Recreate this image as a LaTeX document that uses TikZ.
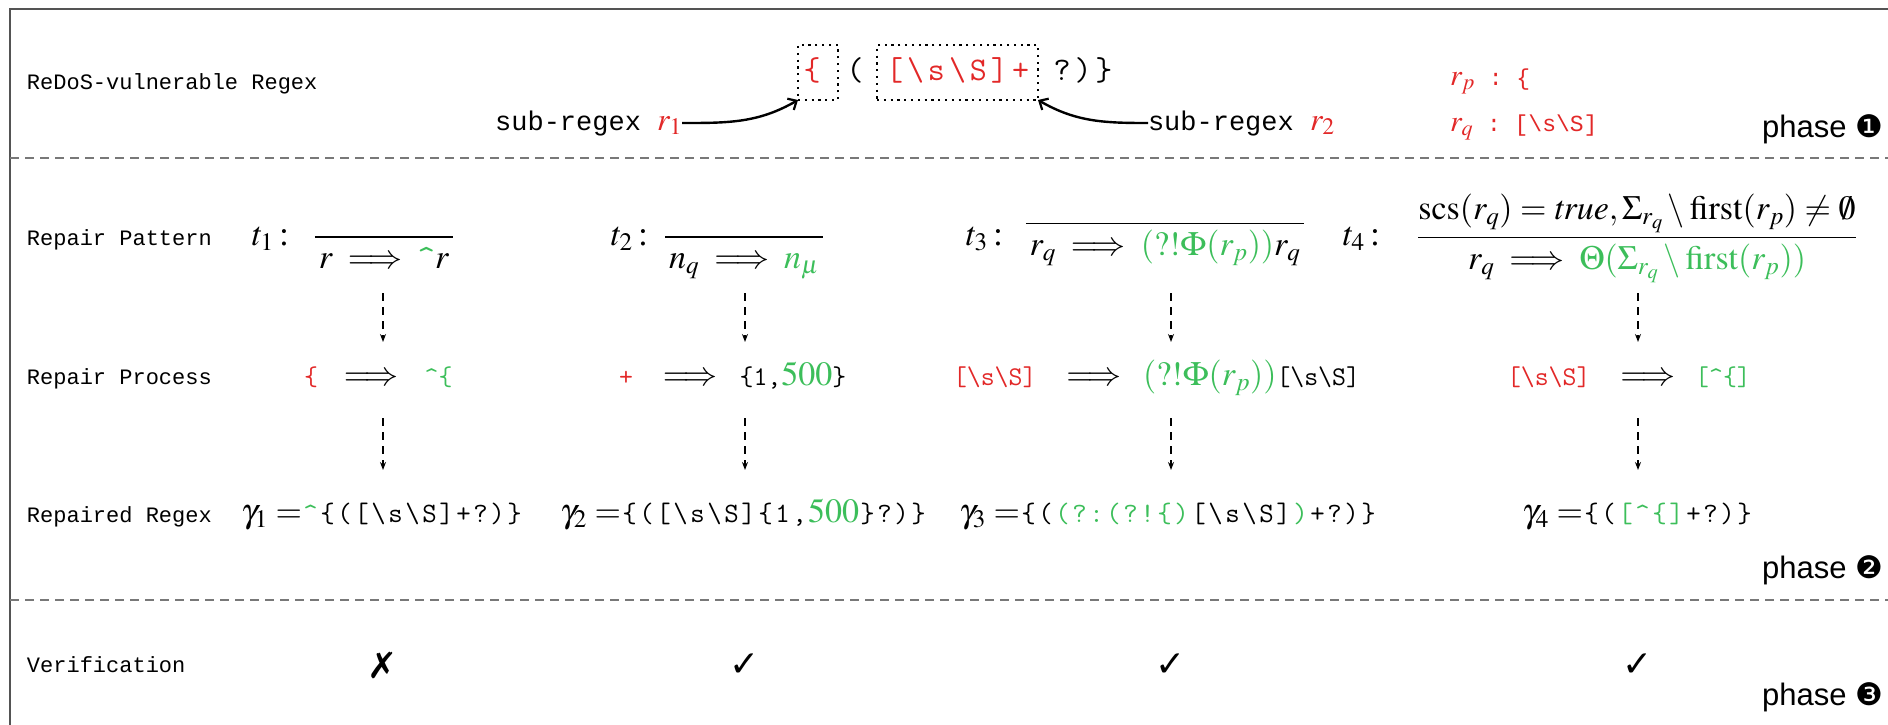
\documentclass[tikz,border=0pt]{standalone}
\usepackage{amsmath}
\usepackage{mathptmx}
\usepackage[no-math]{fontspec}
\setmainfont{Liberation Serif}
\newfontfamily\courierf{Liberation Mono}
\newfontfamily\helvf{Liberation Sans}
\newfontfamily\dejavu{DejaVu Sans}
\usetikzlibrary{arrows.meta}
\definecolor{myred}{RGB}{226,40,40}
\definecolor{mygreen}{RGB}{60,190,90}
\definecolor{lineg}{RGB}{120,120,120}
\makeatletter
\newcommand\spch[2]{\@tfor\spx:=#2\do{\makebox[#1]{\spx}}}
\makeatother
\newcommand\labf{\courierf\fontsize{22}{26}\selectfont}
\newcommand\subf{\courierf\fontsize{27}{32}\selectfont}
\newcommand\mathf{\fontsize{34}{40}\selectfont}
\newcommand\ttbig{\ttfamily\fontsize{33}{40}\selectfont}
\newcommand\ttmid{\ttfamily\fontsize{27}{32}\selectfont}
\newcommand\ttrow{\ttfamily\fontsize{28}{32}\selectfont}
\newcommand\phf{\helvf\fontsize{31}{36}\selectfont}
\newcommand\bsl{\textbackslash}
\begin{document}
\begin{tikzpicture}[x=1pt,y=-1pt,
  every node/.style={inner sep=0pt,outer sep=0pt},
  lab/.style={anchor=base west,font=\labf},
  mathcell/.style={anchor=base west,font=\mathf},
  rulecell/.style={anchor=base,font=\mathf},
  dotbox/.style={draw=black,line width=2pt,dash pattern=on 2.2pt off 4.6pt,minimum height=55pt},
  curvearrow/.style={line width=2.4pt,-{Straight Barb[length=7pt,width=13pt,line width=2.2pt]}},
  dasharrow/.style={line width=1.2pt,dash pattern=on 8pt off 6pt,-{Stealth[length=8pt,width=6pt]}},
  sep/.style={lineg,line width=1.8pt,dash pattern=on 9pt off 6pt},
  phase/.style={anchor=base east,font=\phf},
  checkmk/.style={font=\dejavu\fontsize{36}{40}\selectfont}]
\useasboundingbox (0,0) rectangle (1888,725);
% frame
\draw[lineg!70!black,line width=2.5pt] (10,730) -- (10,9) -- (1895,9);
\draw[sep] (10,158) -- (1888,158);
\draw[sep] (10,600) -- (1888,600);
% row labels
\node[lab] (l1) at (27,89) {ReDoS-vulnerable Regex};
\node[lab] (l2) at (27,245) {Repair Pattern};
\node[lab] (l3) at (27,384) {Repair Process};
\node[lab] (l4) at (27,522) {Repaired Regex};
\node[lab] (l5) at (27,672) {Verification};
% phase 1
\node[dotbox,minimum width=40pt] (b1) at (818,72.5) {};
\node[dotbox,minimum width=161pt] (b2) at (957.5,72.5) {};
\node[anchor=base,font=\ttbig,text=myred] (c1) at (812,81) {\{};
\node[anchor=base,font=\ttbig] (c2) at (855,81) {(};
\node[anchor=base,font=\ttbig,text=myred] (c3) at (957.5,81) {\spch{21pt}{[\bsl s\bsl S]+}};
\node[anchor=base,font=\ttbig] (c4) at (1083,81) {\spch{21pt}{?)\}}};
\node[anchor=base east,font=\subf] (s1) at (682,130) {sub-regex \textcolor{myred}{\fontsize{32}{36}\selectfont$r_1$}};
\node[anchor=base west,font=\subf] (s2) at (1148,130) {sub-regex \textcolor{myred}{\fontsize{32}{36}\selectfont$r_2$}};
\draw[curvearrow] (s1.east) to[out=0,in=-150] (b1.south west);
\draw[curvearrow] (s2.west) to[out=180,in=-30] (b2.south east);
\node[anchor=base west,text=myred] (rp) at (1450,85) {\fontsize{30}{34}\selectfont$r_p$\courierf\fontsize{23}{28}\selectfont\ :\ \{};
\node[anchor=base west,text=myred] (rq) at (1450,131) {\fontsize{30}{34}\selectfont$r_q$\courierf\fontsize{23}{28}\selectfont\ :\ [\bsl s\bsl S]};
\node[phase] (ph1) at (1883,137) {phase {\dejavu ❶}};
% repair patterns
\node[mathcell] (t1) at (252,245) {$t_1$\,:};
\node[rulecell] (f1) at (384,245.5) {$\dfrac{}{\,r\;\Longrightarrow\;\textcolor{mygreen}{\texttt{\^{}}}r\,}$};
\node[mathcell] (t2) at (611,245) {$t_2$\,:};
\node[rulecell] (f2) at (744,245.5) {$\dfrac{}{\,n_q\;\Longrightarrow\;\textcolor{mygreen}{n_\mu}\,}$};
\node[mathcell] (t3) at (966,245) {$t_3$\,:};
\node[rulecell] (f3) at (1165,232) {$\dfrac{}{\,r_q\;\Longrightarrow\;\textcolor{mygreen}{(?!\Phi(r_p))}r_q\,}$};
\node[mathcell] (t4) at (1343,245) {$t_4$\,:};
\node[rulecell] (f4) at (1637,246) {$\dfrac{\mathrm{scs}(r_q)=\mathit{true},\Sigma_{r_q}\setminus\mathrm{first}(r_p)\neq\emptyset}{r_q\;\Longrightarrow\;\textcolor{mygreen}{\Theta(\Sigma_{r_q}\setminus\mathrm{first}(r_p))}}$};
% repair process
\node[mathcell] (p1) at (304,385) {{\ttmid\color{myred}\{}\hspace{26pt}$\Longrightarrow$\hspace{26pt}{\ttmid\color{mygreen}\textasciicircum\{}};
\node[mathcell] (p2) at (619,385) {{\ttmid\color{myred}+}\hspace{30pt}$\Longrightarrow$\hspace{22pt}{\ttmid\{1,}\textcolor{mygreen}{$500$}{\ttmid\}}};
\node[mathcell] (p3) at (953,385) {{\ttmid\color{myred}[\bsl s\bsl S]}\hspace{30pt}$\Longrightarrow$\hspace{22pt}\textcolor{mygreen}{$(?!\Phi(r_p))$}{\ttmid[\bsl s\bsl S]}};
\node[mathcell] (p4) at (1507,385) {{\ttmid\color{myred}[\bsl s\bsl S]}\hspace{30pt}$\Longrightarrow$\hspace{20pt}{\ttmid\color{mygreen}[\textasciicircum\{]}};
% repaired regexes
\node[mathcell] (g1) at (241,522) {$\gamma_1=${\ttrow\textcolor{mygreen}{\spch{17pt}{\textasciicircum}}\spch{17pt}{\{([\bsl s\bsl S]+?)\}}}};
\node[mathcell] (g2) at (560,522) {$\gamma_2=${\ttrow\spch{17pt}{\{([\bsl s\bsl S]\{1,}}\textcolor{mygreen}{$500$}{\ttrow\spch{17pt}{\}?)\}}}};
\node[mathcell] (g3) at (959,522) {$\gamma_3=${\ttrow\spch{17pt}{\{(}\textcolor{mygreen}{\spch{17pt}{(?:(?!\{)}}\spch{17pt}{[\bsl s\bsl S]}\textcolor{mygreen}{\spch{17pt}{)}}\spch{17pt}{+?)\}}}};
\node[mathcell] (g4) at (1522,522) {$\gamma_4=${\ttrow\spch{17pt}{\{(}\textcolor{mygreen}{\spch{17pt}{[\textasciicircum\{]}}\spch{17pt}{+?)\}}}};
\node[phase] (ph2) at (1883,578) {phase {\dejavu ❷}};
% dashed arrows
\foreach \i/\x in {1/383,2/745,3/1171,4/1638}{
  \coordinate (u\i) at (\x,293);
  \coordinate (v\i) at (\x,342);
  \coordinate (w\i) at (\x,418);
  \coordinate (z\i) at (\x,470);
  \draw[dasharrow] (u\i) -- (v\i);
  \draw[dasharrow] (w\i) -- (z\i);
}
% verification
\node[checkmk] (m1) at (383,665) {✗};
\node[checkmk] (m2) at (745,665) {✓};
\node[checkmk] (m3) at (1171,665) {✓};
\node[checkmk] (m4) at (1638,665) {✓};
\node[phase] (ph3) at (1883,705) {phase {\dejavu ❸}};
\end{tikzpicture}
\end{document}
